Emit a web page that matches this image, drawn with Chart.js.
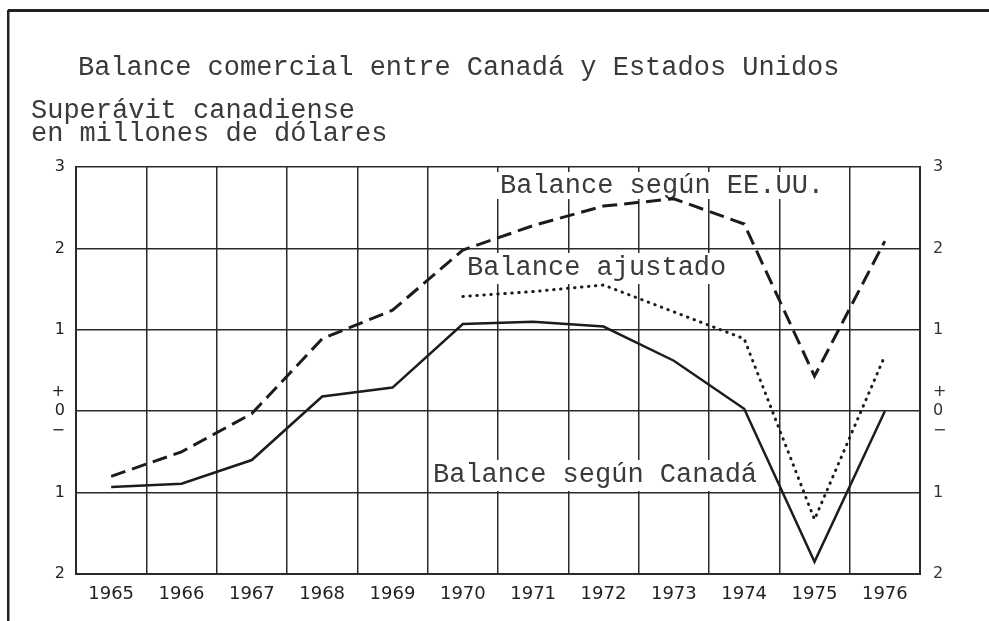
<!DOCTYPE html>
<html>
<head>
<meta charset="utf-8">
<script src="https://cdn.jsdelivr.net/npm/chart.js@4.4.1/dist/chart.umd.min.js"></script>
<style>
  html, body { margin: 0; padding: 0; background: #fff; overflow: hidden; }
  #wrap { width: 989px; height: 621px; position: relative; }
</style>
</head>
<body>
<div id="wrap"><canvas id="balance"></canvas></div>
<script>
'use strict';

// data (surplus positive)
const years = ['1965', '1966', '1967', '1968', '1969', '1970', '1971', '1972', '1973', '1974', '1975', '1976'];
const balanceCanada = [-0.93, -0.89, -0.6, 0.18, 0.29, 1.07, 1.1, 1.04, 0.62, 0.03, -1.85, 0.0];
const balanceUSA = [-0.8, -0.5, -0.03, 0.89, 1.24, 1.98, 2.28, 2.52, 2.61, 2.3, 0.43, 2.09];
const balanceAdjusted = [null, null, null, null, null, 1.41, 1.47, 1.55, 1.22, 0.89, -1.33, 0.68];
const yTicks = [-2, -1, 0, 1, 2, 3];

const titleText = 'Balance comercial entre Canadá y Estados Unidos';
const subtitleLines = ['Superávit canadiense', 'en millones de dólares'];

const ink = '#1c1c1c';
const textInk = '#3a3a3a';
const gridInk = '#2a2a2a';
const monoFont = '27px "Liberation Mono", "DejaVu Sans Mono", monospace';

// labels that sit inside the plot, each with a white knock-out box
const seriesLabels = [
  { text: 'Balance según EE.UU.', x: 500, y: 193, box: [494, 172, 326, 27] },
  { text: 'Balance ajustado', x: 467, y: 275, box: [462, 253, 268, 31] },
  { text: 'Balance según Canadá', x: 433, y: 482, box: [431, 460, 330, 31] },
];

const paperPlugin = {
  id: 'paper',
  beforeDatasetsDraw(chart) {
    const ctx = chart.ctx;
    ctx.save();
    ctx.font = monoFont;
    ctx.textBaseline = 'alphabetic';
    seriesLabels.forEach((l) => {
      ctx.fillStyle = '#fff';
      ctx.fillRect(l.box[0], l.box[1], l.box[2], l.box[3]);
      ctx.fillStyle = textInk;
      ctx.fillText(l.text, l.x, l.y);
    });
    ctx.restore();
  },
  afterDraw(chart) {
    const ctx = chart.ctx;
    ctx.save();
    // frame of the page
    ctx.fillStyle = '#222';
    ctx.fillRect(8, 9, 981, 3);
    ctx.fillRect(7, 10, 2.5, 611);

    ctx.font = monoFont;
    ctx.fillStyle = textInk;
    ctx.textBaseline = 'alphabetic';
    ctx.fillText(titleText, 78, 75);
    ctx.fillText(subtitleLines[0], 31, 118);
    ctx.fillText(subtitleLines[1], 31, 141);
    ctx.restore();
  },
};

const xTickFont = { family: '"DejaVu Sans", sans-serif', size: 18 };
const yTickFont = { family: '"DejaVu Sans", sans-serif', size: 16 };

function yLabel(value) {
  if (value === 0) {
    return ['+', '0', '\u2212'];
  }
  return String(Math.abs(value));
}

new Chart(document.getElementById('balance'), {
  type: 'line',
  data: {
    labels: years,
    datasets: [
      {
        label: 'Balance según Canadá',
        data: balanceCanada,
        borderColor: ink,
        borderWidth: 2.5,
        pointRadius: 0,
        tension: 0,
      },
      {
        label: 'Balance según EE.UU.',
        data: balanceUSA,
        borderColor: ink,
        borderWidth: 3,
        borderDash: [15, 7],
        pointRadius: 0,
        tension: 0,
      },
      {
        label: 'Balance ajustado',
        data: balanceAdjusted,
        borderColor: ink,
        borderWidth: 3,
        borderDash: [0.5, 6.5],
        borderCapStyle: 'round',
        pointRadius: 0,
        tension: 0,
        spanGaps: false,
      },
    ],
  },
  options: {
    responsive: true,
    maintainAspectRatio: false,
    animation: false,
    layout: { padding: { top: 167, left: 0, right: 0, bottom: 0 } },
    plugins: {
      legend: { display: false },
      tooltip: { enabled: false },
    },
    scales: {
      x: {
        offset: true,
        grid: { offset: true, color: gridInk, lineWidth: 1.5, drawTicks: false },
        border: { display: true, color: gridInk, width: 2 },
        ticks: { color: '#222', font: xTickFont, padding: 10, maxRotation: 0 },
        afterFit: (scale) => {
          scale.height = 47;
        },
      },
      y: {
        position: 'left',
        min: -2,
        max: 3,
        afterBuildTicks: (scale) => {
          scale.ticks = yTicks.map((v) => ({ value: v }));
        },
        grid: { color: gridInk, lineWidth: 1.5, drawTicks: false },
        border: { display: true, color: gridInk, width: 2 },
        ticks: { color: '#222', font: yTickFont, padding: 11, callback: yLabel },
        afterFit: (scale) => {
          scale.width = 76;
        },
      },
      y2: {
        position: 'right',
        display: true,
        min: -2,
        max: 3,
        afterBuildTicks: (scale) => {
          scale.ticks = yTicks.map((v) => ({ value: v }));
        },
        grid: { display: false, drawTicks: false },
        border: { display: true, color: gridInk, width: 2 },
        ticks: { color: '#333', font: yTickFont, padding: 13, callback: yLabel },
        afterFit: (scale) => {
          scale.width = 69;
        },
      },
    },
  },
  plugins: [paperPlugin],
});
</script>
</body>
</html>
